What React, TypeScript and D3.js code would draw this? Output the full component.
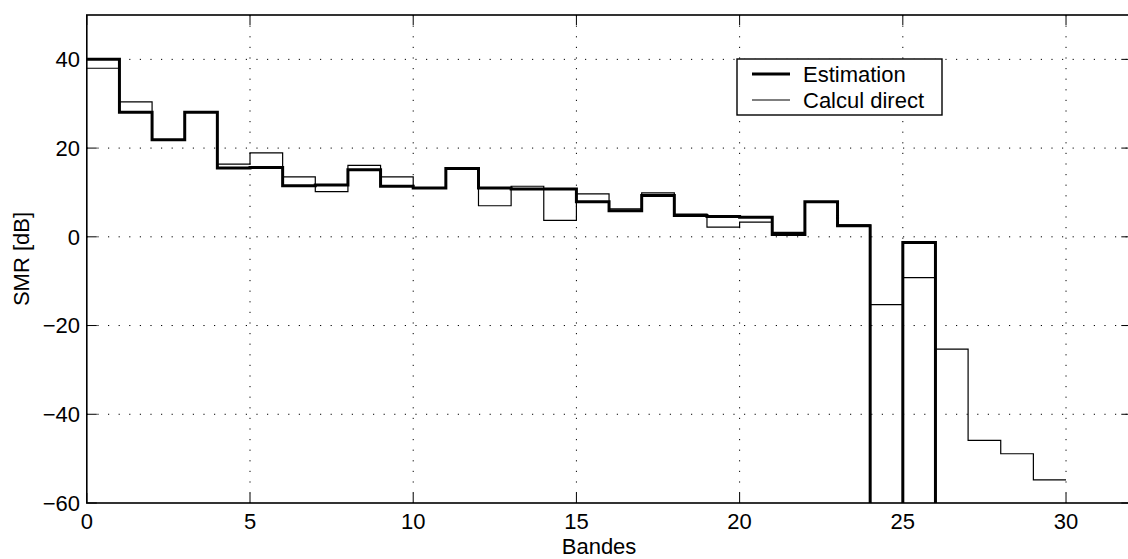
import React from "react";
import * as d3 from "d3";

const bands: number[] = d3.range(0, 30);
// SMR per band (dB). -100 stands for "below the axis" (−∞ dB), clipped by the plot area.
const estimation: number[] = [40, 28.1, 21.9, 28.1, 15.5, 15.6, 11.5, 11.7, 15.1, 11.4, 11.0, 15.4, 11.0, 10.8, 10.8, 7.9, 5.9, 9.3, 4.8, 4.6, 4.4, 0.5, 7.9, 2.5, -100, -1.3, -100, -100, -100, -100];
const calculDirect: number[] = [38, 30.4, 21.9, 28.1, 16.4, 18.9, 13.5, 10.2, 16.1, 13.5, 11.0, 15.4, 7.0, 11.4, 3.7, 9.7, 6.3, 9.9, 5.1, 2.2, 3.3, 1.0, 7.9, 2.7, -15.3, -9.2, -25.3, -45.9, -48.9, -54.8];
const xTicks: number[] = [0, 5, 10, 15, 20, 25, 30];
const yTicks: number[] = [-60, -40, -20, 0, 20, 40];
const seriesNames: string[] = ["Estimation", "Calcul direct"];

const W = 1128, H = 559;
const L = 86.8, T = 15, R = 1131.3, B = 503;
const FONT = "'Liberation Sans', Arial, Helvetica, sans-serif";
const FS = 22;

export default function App() {
  const x = d3.scaleLinear().domain([0, 32]).range([L, R]);
  const y = d3.scaleLinear().domain([-60, 50]).range([B, T]);
  const line = d3.line<[number, number]>().x(d => x(d[0])).y(d => y(d[1])).curve(d3.curveStepAfter);
  const pts = (vals: number[]): [number, number][] => {
    const p: [number, number][] = bands.map((b, i) => [b, vals[i]]);
    p.push([bands[bands.length - 1] + 1, vals[vals.length - 1]]);
    return p;
  };
  const tickLen = 10;
  const gridDash = "1.2,9.4";
  return (
    <div style={{ position: "absolute", left: 0, top: 0 }}>
      <svg width={W} height={H} style={{ display: "block", background: "#fff" }} fontFamily={FONT}>
        <defs>
          <clipPath id="plot">
            <rect x={L} y={T} width={R - L} height={B - T} />
          </clipPath>
        </defs>
        <rect x={0} y={0} width={W} height={H} fill="#fff" />
        {/* grid */}
        {xTicks.filter(t => t > 0).map(t => (
          <line key={"gx" + t} x1={x(t)} x2={x(t)} y1={T} y2={B} stroke="#000" strokeWidth={1} strokeDasharray={gridDash} />
        ))}
        {yTicks.filter(t => t > -60).map(t => (
          <line key={"gy" + t} x1={L} x2={R} y1={y(t)} y2={y(t)} stroke="#000" strokeWidth={1} strokeDasharray={gridDash} />
        ))}
        {/* series */}
        <g clipPath="url(#plot)">
          <path d={line(pts(calculDirect)) || ""} fill="none" stroke="#000" strokeWidth={1.2} />
          <path d={line(pts(estimation)) || ""} fill="none" stroke="#000" strokeWidth={3} />
        </g>
        {/* axes box */}
        <rect x={L} y={T} width={R - L} height={B - T} fill="none" stroke="#000" strokeWidth={1.6} />
        {/* ticks */}
        {xTicks.map(t => (
          <g key={"tx" + t}>
            <line x1={x(t)} x2={x(t)} y1={B} y2={B - tickLen} stroke="#000" strokeWidth={1} />
            <line x1={x(t)} x2={x(t)} y1={T} y2={T + tickLen} stroke="#000" strokeWidth={1} />
            <text x={x(t)} y={529} textAnchor="middle" fontSize={FS} fill="#000">{t}</text>
          </g>
        ))}
        {yTicks.map(t => (
          <g key={"ty" + t}>
            <line x1={L} x2={L + tickLen} y1={y(t)} y2={y(t)} stroke="#000" strokeWidth={1} />
            <line x1={R} x2={R - tickLen} y1={y(t)} y2={y(t)} stroke="#000" strokeWidth={1} />
            <text x={80} y={y(t)} dy="0.36em" textAnchor="end" fontSize={FS} fill="#000">{t < 0 ? "\u2212" + Math.abs(t) : String(t)}</text>
          </g>
        ))}
        {/* axis labels */}
        <text x={(L + R) / 2 - 10} y={554} textAnchor="middle" fontSize={FS} fill="#000">Bandes</text>
        <text transform={`translate(29,${(T + B) / 2}) rotate(-90)`} textAnchor="middle" fontSize={FS} fill="#000">SMR [dB]</text>
        {/* legend */}
        <g>
          <rect x={737} y={59} width={205} height={56} fill="#fff" stroke="#000" strokeWidth={1.4} />
          <line x1={752} x2={790} y1={74} y2={74} stroke="#000" strokeWidth={3} />
          <text x={803} y={74} dy="0.36em" fontSize={FS} fill="#000">{seriesNames[0]}</text>
          <line x1={752} x2={790} y1={100} y2={100} stroke="#000" strokeWidth={1.2} />
          <text x={803} y={100} dy="0.36em" fontSize={FS} fill="#000">{seriesNames[1]}</text>
        </g>
      </svg>
    </div>
  );
}
